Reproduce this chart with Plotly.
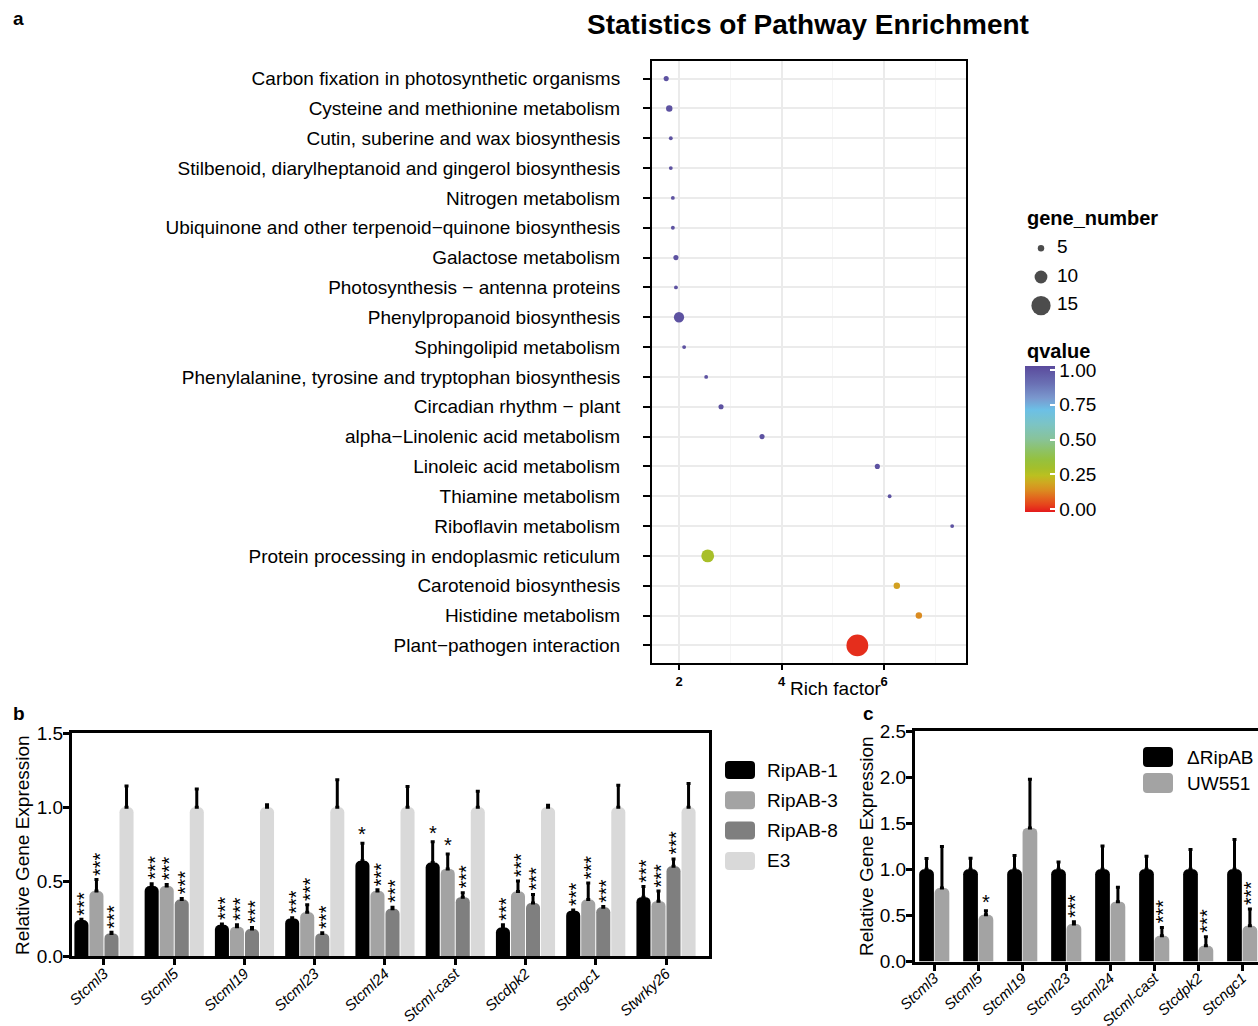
import plotly.graph_objects as go

FONT = "Liberation Sans, Arial, Helvetica, sans-serif"
W, H = 1258, 1026

# ---------------- Panel a data ----------------
pathways = [
    "Carbon fixation in photosynthetic organisms",
    "Cysteine and methionine metabolism",
    "Cutin, suberine and wax biosynthesis",
    "Stilbenoid, diarylheptanoid and gingerol biosynthesis",
    "Nitrogen metabolism",
    "Ubiquinone and other terpenoid−quinone biosynthesis",
    "Galactose metabolism",
    "Photosynthesis − antenna proteins",
    "Phenylpropanoid biosynthesis",
    "Sphingolipid metabolism",
    "Phenylalanine, tyrosine and tryptophan biosynthesis",
    "Circadian rhythm − plant",
    "alpha−Linolenic acid metabolism",
    "Linoleic acid metabolism",
    "Thiamine metabolism",
    "Riboflavin metabolism",
    "Protein processing in endoplasmic reticulum",
    "Carotenoid biosynthesis",
    "Histidine metabolism",
    "Plant−pathogen interaction",
]
rich_factor = [1.75, 1.81, 1.84, 1.84, 1.88, 1.88, 1.94, 1.94, 2.00, 2.10,
               2.53, 2.82, 3.62, 5.87, 6.11, 7.33, 2.56, 6.25, 6.68, 5.48]
gene_number = [4, 5, 3, 3, 3, 3, 4, 3, 8, 3,
               3, 4, 4, 4, 3, 3, 10, 5, 5, 17]
qvalue = [1.0, 1.0, 1.0, 1.0, 1.0, 1.0, 1.0, 1.0, 1.0, 1.0,
          1.0, 1.0, 1.0, 1.0, 1.0, 1.0, 0.28, 0.17, 0.13, 0.0]
size_breaks = [5, 10, 15]
q_ticks = [0.0, 0.25, 0.5, 0.75, 1.0]
q_ticktext = ["0.00", "0.25", "0.50", "0.75", "1.00"]

# ---------------- Panel b data ----------------
genes_b = ["Stcml3", "Stcml5", "Stcml19", "Stcml23", "Stcml24",
           "Stcml-cast", "Stcdpk2", "Stcngc1", "Stwrky26"]
ripab1 = [0.242, 0.471, 0.210, 0.253, 0.640, 0.629, 0.192, 0.305, 0.396]
ripab1_err = [0.005, 0.015, 0.005, 0.005, 0.118, 0.140, 0.018, 0.005, 0.072]
ripab3 = [0.437, 0.471, 0.197, 0.294, 0.437, 0.586, 0.434, 0.380, 0.369]
ripab3_err = [0.077, 0.010, 0.013, 0.050, 0.008, 0.100, 0.071, 0.111, 0.068]
ripab8 = [0.152, 0.380, 0.181, 0.152, 0.317, 0.396, 0.357, 0.328, 0.604]
ripab8_err = [0.008, 0.006, 0.010, 0.005, 0.011, 0.029, 0.057, 0.005, 0.048]
e3 = [1.0, 1.0, 1.0, 1.0, 1.0, 1.0, 1.0, 1.0, 1.0]
e3_err = [0.143, 0.124, 0.018, 0.185, 0.140, 0.109, 0.014, 0.149, 0.161]
sig1 = ["***", "***", "***", "***", "*", "*", "***", "***", "***"]
sig3 = ["***", "***", "***", "***", "***", "*", "***", "***", "***"]
sig8 = ["***", "***", "***", "***", "***", "***", "***", "***", "***"]
sigE3 = ["", "", "", "", "", "", "", "", ""]
series_b = ["RipAB-1", "RipAB-3", "RipAB-8", "E3"]

# ---------------- Panel c data ----------------
genes_c = ["Stcml3", "Stcml5", "Stcml19", "Stcml23", "Stcml24",
           "Stcml-cast", "Stcdpk2", "Stcngc1"]
dripab = [1.0, 1.0, 1.0, 1.0, 1.0, 1.0, 1.0, 1.0]
dripab_err = [0.116, 0.120, 0.150, 0.080, 0.254, 0.141, 0.214, 0.322]
uw551 = [0.797, 0.507, 1.449, 0.406, 0.649, 0.279, 0.170, 0.388]
uw551_err = [0.449, 0.043, 0.529, 0.024, 0.155, 0.091, 0.098, 0.181]
sig_d = ["", "", "", "", "", "", "", ""]
sig_uw = ["", "*", "", "***", "", "***", "***", "***"]
series_c = ["ΔRipAB", "UW551"]


def px_x(x):
    return x / W


def px_y(y):
    return 1 - y / H


colorscale = [
    [0.00, "#E41A1C"], [0.05, "#E6441C"], [0.10, "#E2681E"],
    [0.15, "#DA8D20"], [0.20, "#CFA821"], [0.25, "#BBC020"],
    [0.30, "#A4BF2B"], [0.36, "#95C13F"], [0.42, "#8EC264"],
    [0.50, "#88C39A"], [0.60, "#7CC4C4"], [0.70, "#6CC0E6"],
    [0.78, "#7A98CE"], [0.88, "#6A70B4"], [1.00, "#5A4A9C"],
]

fig = go.Figure()

# ---- Panel a: dot plot ----
SIZEREF = 0.78
fig.add_trace(go.Scatter(
    x=rich_factor, y=pathways, mode="markers", xaxis="x", yaxis="y",
    showlegend=False,
    marker=dict(size=gene_number, sizemode="diameter", sizeref=SIZEREF,
                color=qvalue, colorscale=colorscale, cmin=-0.025, cmax=1.025,
                line=dict(width=0), opacity=1,
                showscale=True,
                colorbar=dict(
                    x=px_x(1025), xanchor="left", y=px_y(439.5), yanchor="middle",
                    len=146 / H, lenmode="fraction", thickness=30,
                    thicknessmode="pixels", xpad=0, ypad=0, outlinewidth=0,
                    tickvals=q_ticks, ticktext=q_ticktext, ticks="inside",
                    ticklen=5, tickcolor="white", tickwidth=1.5,
                    tickfont=dict(size=19, color="black", family=FONT),
                )),
))

# gene_number size legend (drawn through its own hidden axes)
fig.add_trace(go.Scatter(
    x=[11] * len(size_breaks), y=list(range(len(size_breaks)))[::-1],
    mode="markers", xaxis="x4", yaxis="y4", showlegend=False,
    marker=dict(size=size_breaks, sizemode="diameter", sizeref=SIZEREF,
                color="black", line=dict(width=0)),
))
fig.add_trace(go.Scatter(
    x=[27] * len(size_breaks), y=list(range(len(size_breaks)))[::-1],
    mode="text", text=[str(s) for s in size_breaks], textposition="middle right",
    xaxis="x4", yaxis="y4", showlegend=False,
    textfont=dict(size=19, color="black", family=FONT),
))

STAR_SIZE = 20

# ---- Panel b: grouped bars ----
b_vals = [ripab1, ripab3, ripab8, e3]
b_errs = [ripab1_err, ripab3_err, ripab8_err, e3_err]
b_sigs = [sig1, sig3, sig8, sigE3]
b_cols = ["#000000", "#A3A3A3", "#7F7F7F", "#D9D9D9"]
idx_b = list(range(len(genes_b)))
BW_B, STEP_B = 0.2, 0.214
annotations = []
for i, (name, vals, errs, sigs, col) in enumerate(zip(series_b, b_vals, b_errs, b_sigs, b_cols)):
    off = -2 * STEP_B + i * STEP_B + (STEP_B - BW_B) / 2
    fig.add_trace(go.Bar(
        x=idx_b, y=vals, name=name, width=BW_B, offset=off,
        xaxis="x2", yaxis="y2", showlegend=False,
        marker=dict(color=col, cornerradius=5, line=dict(width=0)),
        error_y=dict(type="data", array=errs, arrayminus=[0] * len(errs),
                     symmetric=False, color="black", thickness=3, width=2),
    ))
    for j, s in enumerate(sigs):
        if not s:
            continue
        annotations.append(dict(
            x=idx_b[j] + off + BW_B / 2, y=vals[j] + errs[j], xref="x2", yref="y2",
            text=s, showarrow=False, textangle=-90 if len(s) > 1 else 0,
            xanchor="center", yanchor="bottom",
            yshift=2 if len(s) > 1 else -4,
            xshift=3 if len(s) > 1 else 0,
            font=dict(size=STAR_SIZE, color="black", family=FONT)))

# ---- Panel c: grouped bars ----
c_vals = [dripab, uw551]
c_errs = [dripab_err, uw551_err]
c_sigs = [sig_d, sig_uw]
c_cols = ["#000000", "#A3A3A3"]
idx_c = list(range(len(genes_c)))
BW_C = 0.335
for i, (name, vals, errs, sigs, col) in enumerate(zip(series_c, c_vals, c_errs, c_sigs, c_cols)):
    off = -0.345 + i * 0.35
    fig.add_trace(go.Bar(
        x=idx_c, y=vals, name=name, width=BW_C, offset=off,
        xaxis="x3", yaxis="y3", showlegend=False,
        marker=dict(color=col, cornerradius=5, line=dict(width=0)),
        error_y=dict(type="data", array=errs, arrayminus=[0] * len(errs),
                     symmetric=False, color="black", thickness=3, width=2),
    ))
    for j, s in enumerate(sigs):
        if not s:
            continue
        annotations.append(dict(
            x=idx_c[j] + off + BW_C / 2, y=vals[j] + errs[j], xref="x3", yref="y3",
            text=s, showarrow=False, textangle=-90 if len(s) > 1 else 0,
            xanchor="center", yanchor="bottom",
            yshift=2 if len(s) > 1 else -4,
            xshift=1 if len(s) > 1 else 0,
            font=dict(size=STAR_SIZE, color="black", family=FONT)))


# ---- custom legend swatches (rounded rectangles) ----
def rrect(x0, y0, x1, y1, r):
    X = lambda v: f"{px_x(v):.6f}"
    Y = lambda v: f"{px_y(v):.6f}"
    return (f"M{X(x0 + r)},{Y(y0)} L{X(x1 - r)},{Y(y0)} Q{X(x1)},{Y(y0)} {X(x1)},{Y(y0 + r)} "
            f"L{X(x1)},{Y(y1 - r)} Q{X(x1)},{Y(y1)} {X(x1 - r)},{Y(y1)} "
            f"L{X(x0 + r)},{Y(y1)} Q{X(x0)},{Y(y1)} {X(x0)},{Y(y1 - r)} "
            f"L{X(x0)},{Y(y0 + r)} Q{X(x0)},{Y(y0)} {X(x0 + r)},{Y(y0)} Z")


shapes = []
for k, (name, col) in enumerate(zip(series_b, b_cols)):
    cy = 770 + k * 30.3
    shapes.append(dict(type="path", path=rrect(725, cy - 9, 755, cy + 9, 4),
                       xref="paper", yref="paper", fillcolor=col, line=dict(width=0)))
    annotations.append(dict(x=px_x(765), y=px_y(cy), xref="paper", yref="paper",
                            text=name, showarrow=False, xanchor="left", yanchor="middle",
                            font=dict(size=19, color="black", family=FONT)))
for k, (name, col) in enumerate(zip(series_c, c_cols)):
    cy = 757 + k * 26
    shapes.append(dict(type="path", path=rrect(1143, cy - 10, 1173, cy + 10, 4),
                       xref="paper", yref="paper", fillcolor=col, line=dict(width=0)))
    annotations.append(dict(x=px_x(1185), y=px_y(cy), xref="paper", yref="paper",
                            text=name, showarrow=False, xanchor="left", yanchor="middle",
                            font=dict(size=19, color="black", family=FONT)))

# ---- text annotations ----
annotations += [
    dict(x=px_x(808), y=px_y(24), xref="paper", yref="paper",
         text="<b>Statistics of Pathway Enrichment</b>", showarrow=False,
         xanchor="center", yanchor="middle", font=dict(size=28, color="black", family=FONT)),
    dict(x=px_x(11), y=px_y(18), xref="paper", yref="paper", text="<b>a</b>",
         showarrow=False, xanchor="left", yanchor="middle", font=dict(size=19, color="black", family=FONT)),
    dict(x=px_x(11), y=px_y(713), xref="paper", yref="paper", text="<b>b</b>",
         showarrow=False, xanchor="left", yanchor="middle", font=dict(size=19, color="black", family=FONT)),
    dict(x=px_x(861), y=px_y(713), xref="paper", yref="paper", text="<b>c</b>",
         showarrow=False, xanchor="left", yanchor="middle", font=dict(size=19, color="black", family=FONT)),
    dict(x=px_x(835), y=px_y(688), xref="paper", yref="paper", text="Rich factor",
         showarrow=False, xanchor="center", yanchor="middle", font=dict(size=19, color="black", family=FONT)),
    dict(x=px_x(1025), y=px_y(218), xref="paper", yref="paper", text="<b>gene_number</b>",
         showarrow=False, xanchor="left", yanchor="middle", font=dict(size=20, color="black", family=FONT)),
    dict(x=px_x(1025), y=px_y(351), xref="paper", yref="paper", text="<b>qvalue</b>",
         showarrow=False, xanchor="left", yanchor="middle", font=dict(size=20, color="black", family=FONT)),
    dict(x=px_x(22), y=px_y(845), xref="paper", yref="paper", text="Relative Gene Expression",
         showarrow=False, textangle=-90, xanchor="center", yanchor="middle",
         font=dict(size=19, color="black", family=FONT)),
    dict(x=px_x(866), y=px_y(846), xref="paper", yref="paper", text="Relative Gene Expression",
         showarrow=False, textangle=-90, xanchor="center", yanchor="middle",
         font=dict(size=19, color="black", family=FONT)),
]

bar_xaxis = dict(showline=True, linewidth=3, linecolor="black", mirror=True,
                 ticks="outside", ticklen=6, tickwidth=3, tickcolor="black",
                 tickangle=-43, showgrid=False, zeroline=False, automargin=False,
                 ticklabelstandoff=-6,
                 tickfont=dict(size=15, color="black", family=FONT, style="italic"))
bar_yaxis = dict(showline=True, linewidth=3, linecolor="black",
                 ticks="outside", ticklen=6, tickwidth=3, tickcolor="black",
                 showgrid=False, zeroline=False, tickformat=".1f", automargin=False,
                 ticklabelstandoff=-4,
                 tickfont=dict(size=19, color="black", family=FONT))

fig.update_layout(
    width=W, height=H, margin=dict(l=0, r=0, t=0, b=0, autoexpand=False),
    paper_bgcolor="white", plot_bgcolor="white",
    font=dict(family=FONT, color="black"),
    barmode="overlay",
    showlegend=False,
    xaxis=dict(domain=[px_x(652), px_x(966)], anchor="y", range=[1.473, 7.6],
               tickvals=[2, 4, 6], showline=True, linewidth=2, linecolor="black",
               mirror=True, ticks="outside", ticklen=5, tickwidth=2, tickcolor="black",
               showgrid=True, gridcolor="#EBEBEB", gridwidth=1.5, zeroline=False,
               automargin=False,
               minor=dict(tickvals=[3, 5, 7], showgrid=True, gridcolor="#F5F5F5", gridwidth=1),
               tickfont=dict(size=13, color="black", family=FONT, weight="bold")),
    yaxis=dict(domain=[px_y(663), px_y(61)], anchor="x", type="category",
               categoryorder="array", categoryarray=pathways[::-1],
               range=[-0.59, len(pathways) - 1 + 0.59],
               showline=True, linewidth=2, linecolor="black", mirror=True,
               ticks="outside", ticklen=7, tickwidth=2, tickcolor="black",
               showgrid=True, gridcolor="#EBEBEB", gridwidth=1.5, zeroline=False,
               ticklabelstandoff=19, automargin=False,
               tickfont=dict(size=19, color="black", family=FONT)),
    xaxis2=dict(bar_xaxis, domain=[px_x(72), px_x(709)], anchor="y2",
                range=[-0.455, 8.612], tickvals=idx_b, ticktext=genes_b),
    yaxis2=dict(bar_yaxis, domain=[px_y(956), px_y(733)], anchor="x2", mirror=True,
                range=[0, 1.5], tickvals=[0, 0.5, 1.0, 1.5]),
    xaxis3=dict(bar_xaxis, domain=[px_x(915), 1.0], anchor="y3",
                range=[-0.44, 7.357], tickvals=idx_c, ticktext=genes_c,
                ticklabelstandoff=-7),
    yaxis3=dict(bar_yaxis, domain=[px_y(961.5), px_y(731)], anchor="x3", mirror=False,
                range=[0, 2.5], tickvals=[0, 0.5, 1.0, 1.5, 2.0, 2.5]),
    xaxis4=dict(domain=[px_x(1030), px_x(1130)], anchor="y4", range=[0, 100],
                visible=False, automargin=False),
    yaxis4=dict(domain=[px_y(320), px_y(234)], anchor="x4", range=[-0.5, 2.5],
                visible=False, automargin=False),
    annotations=annotations,
    shapes=shapes,
)

fig.write_html("out.html", config={"displayModeBar": False},
               post_script="document.body.style.margin='0';")
